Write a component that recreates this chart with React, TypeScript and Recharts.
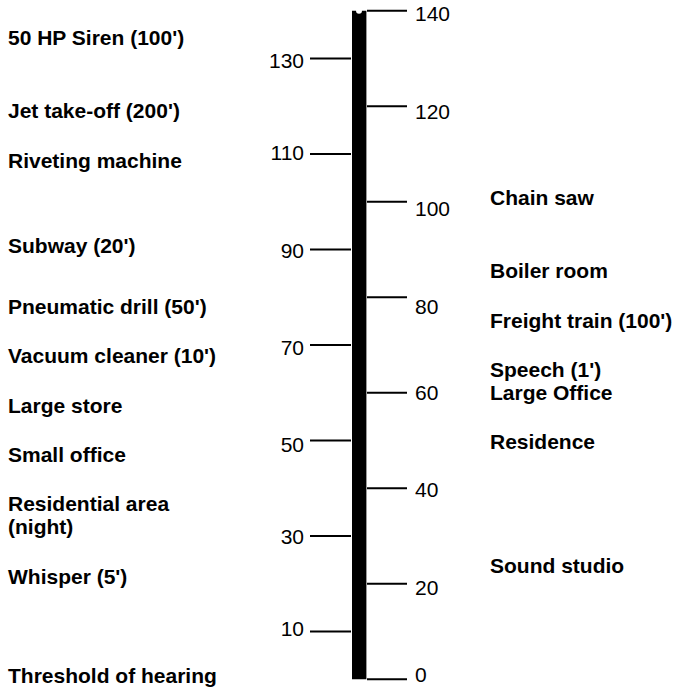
import React from 'react';
import { ComposedChart, Bar, Line, XAxis, YAxis, ReferenceDot } from 'recharts';

// ---- data ----
const CATEGORIES = ['Sound level (dB)'];
const MAX_LEVEL = [140];
const LEFT_TICKS = [10, 30, 50, 70, 90, 110, 130];
const RIGHT_TICKS = [0, 20, 40, 60, 80, 100, 120, 140];

const LEFT_SOURCES = [
  "50 HP Siren (100')",
  "Jet take-off (200')",
  'Riveting machine',
  "Subway (20')",
  "Pneumatic drill (50')",
  "Vacuum cleaner (10')",
  'Large store',
  'Small office',
  'Residential area\n(night)',
  "Whisper (5')",
  'Threshold of hearing',
];
const LEFT_LEVELS = [134.4, 119, 108.7, 90.8, 78, 67.7, 57.4, 47.1, 34.4, 21.5, 0.8];

const RIGHT_SOURCES = [
  'Chain saw',
  'Boiler room',
  "Freight train (100')",
  "Speech (1')",
  'Large Office',
  'Residence',
  'Sound studio',
];
const RIGHT_LEVELS = [100.9, 85.5, 75.2, 64.8, 60, 49.8, 23.8];

// ---- styles ----
const FONT = "'Liberation Sans', Arial, Helvetica, sans-serif";
const FONT_SIZE = 21;
const LINE_GAP = 23.7;
const LEFT_X = 8;
const RIGHT_X = 490;
// small hand-placement nudges (px) of the tick numbers in the original drawing
const TICK_NUDGE: Record<number, number> = {
  140: 2.6, 130: 2.3, 120: 5, 110: -1, 100: 7, 90: 0.7, 80: 9, 70: 3,
  60: 0, 50: 4.4, 40: 1, 30: 0.7, 20: 3.3, 10: -3.3, 0: -4.3,
};

const chartData = CATEGORIES.map((name, i) => ({ name, level: MAX_LEVEL[i] }));

function makeLabel(text: string, x: number) {
  return (props: any) => {
    const lines = text.split('\n');
    const cy = props.cy;
    const startY = cy - ((lines.length - 1) * LINE_GAP) / 2;
    return (
      <text
        x={x}
        y={startY}
        fontFamily={FONT}
        fontWeight="bold"
        fontSize={FONT_SIZE}
        fill="#000"
        textAnchor="start"
      >
        {lines.map((ln, i) => (
          <tspan key={i} x={x} y={startY + i * LINE_GAP} dy="0.355em">
            {ln}
          </tspan>
        ))}
      </text>
    );
  };
}

function Tick(props: any) {
  const { x, y, payload, textAnchor } = props;
  const v = payload.value;
  return (
    <text
      x={x}
      y={y + (TICK_NUDGE[v] || 0)}
      dy="0.355em"
      textAnchor={textAnchor}
      fontFamily={FONT}
      fontSize={FONT_SIZE}
      fill="#000"
    >
      {v}
    </text>
  );
}

export default function App() {
  const tickLine = { stroke: '#000', strokeWidth: 2 };
  return (
    <div style={{ position: 'absolute', left: 0, top: 0, width: 677, height: 690, background: '#fff' }}>
      <ComposedChart
        width={677}
        height={690}
        data={chartData}
        margin={{ top: 10.7, right: 230, bottom: 10.7, left: 271 }}
        barCategoryGap={0}
      >
        <XAxis dataKey="name" hide />
        <YAxis
          yAxisId="left"
          orientation="left"
          width={80}
          domain={[0, 140]}
          ticks={LEFT_TICKS}
          interval={0}
          axisLine={false}
          tickLine={tickLine}
          tickSize={41}
          tickMargin={6}
          tick={<Tick />}
        />
        <YAxis
          yAxisId="right"
          orientation="right"
          width={80}
          domain={[0, 140]}
          ticks={RIGHT_TICKS}
          interval={0}
          axisLine={false}
          tickLine={tickLine}
          tickSize={40}
          tickMargin={8}
          tick={<Tick />}
        />
        <Bar yAxisId="left" dataKey="level" fill="#000" barSize={16} isAnimationActive={false} />
        <Line
          yAxisId="right"
          dataKey="level"
          stroke="none"
          dot={false}
          activeDot={false}
          legendType="none"
          isAnimationActive={false}
        />
        {LEFT_SOURCES.map((s, i) => (
          <ReferenceDot
            key={'l' + i}
            yAxisId="left"
            x={CATEGORIES[0]}
            y={LEFT_LEVELS[i]}
            r={0}
            ifOverflow="visible"
            shape={makeLabel(s, LEFT_X)}
          />
        ))}
        {RIGHT_SOURCES.map((s, i) => (
          <ReferenceDot
            key={'r' + i}
            yAxisId="left"
            x={CATEGORIES[0]}
            y={RIGHT_LEVELS[i]}
            r={0}
            ifOverflow="visible"
            shape={makeLabel(s, RIGHT_X)}
          />
        ))}
      </ComposedChart>
    </div>
  );
}
